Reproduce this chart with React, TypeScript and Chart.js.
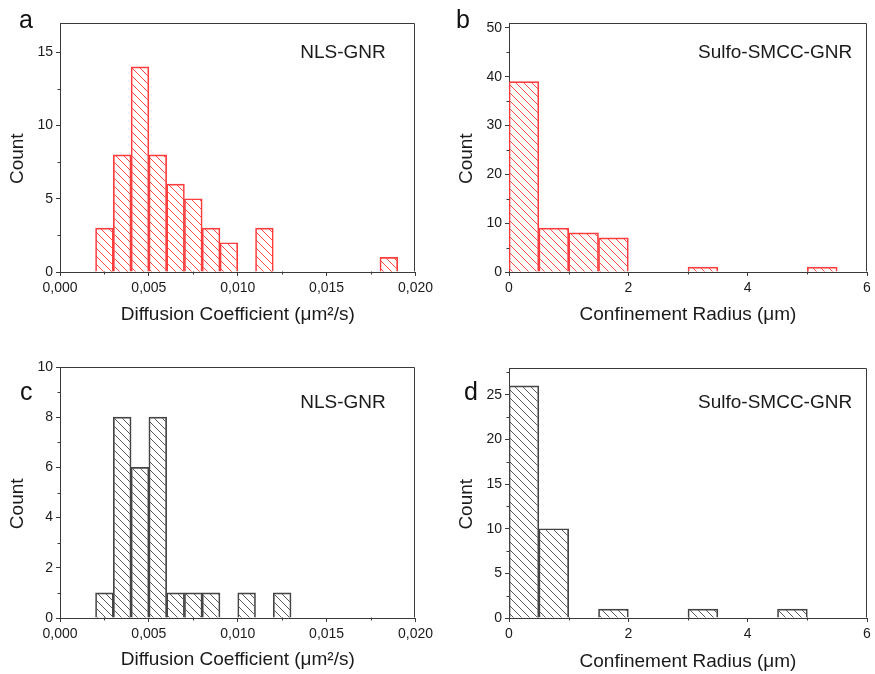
import React, { useEffect, useRef } from 'react';
import { Chart, registerables } from 'chart.js';

Chart.register(...registerables);

// ---------------- data ----------------
const diffusionBinWidth = 0.001;
const radiusBinWidth = 0.5;

const nlsRedBinStarts = [0.002, 0.003, 0.004, 0.005, 0.006, 0.007, 0.008, 0.009, 0.011, 0.018];
const nlsRedCounts = [3, 8, 14, 8, 6, 5, 3, 2, 3, 1];

const sulfoRedBinStarts = [0, 0.5, 1, 1.5, 3, 5];
const sulfoRedCounts = [39, 9, 8, 7, 1, 1];

const nlsGrayBinStarts = [0.002, 0.003, 0.004, 0.005, 0.006, 0.007, 0.008, 0.01, 0.012];
const nlsGrayCounts = [1, 8, 6, 8, 1, 1, 1, 1, 1];

const sulfoGrayBinStarts = [0, 0.5, 1.5, 3, 4.5];
const sulfoGrayCounts = [26, 10, 1, 1, 1];

const diffusionTicks = [0, 0.005, 0.01, 0.015, 0.02];
const diffusionTickLabels = ['0,000', '0,005', '0,010', '0,015', '0,020'];
const diffusionMinorTicks = [0.0025, 0.0075, 0.0125, 0.0175];

const radiusTicks = [0, 2, 4, 6];
const radiusTickLabels = ['0', '2', '4', '6'];
const radiusMinorTicks = [1, 3, 5];

const countTicksA = [0, 5, 10, 15];
const countMinorA = [2.5, 7.5, 12.5];
const countTicksB = [0, 10, 20, 30, 40, 50];
const countMinorB = [5, 15, 25, 35, 45];
const countTicksC = [0, 2, 4, 6, 8, 10];
const countMinorC = [1, 3, 5, 7, 9];
const countTicksD = [0, 5, 10, 15, 20, 25];
const countMinorD = [2.5, 7.5, 12.5, 17.5, 22.5, 27.5];

const diffusionTitle = 'Diffusion Coefficient (\u03bcm\u00b2/s)';
const radiusTitle = 'Confinement Radius (\u03bcm)';
const countTitle = 'Count';
const nlsLabel = 'NLS-GNR';
const sulfoLabel = 'Sulfo-SMCC-GNR';

// ---------------- styles ----------------
const AXIS_COLOR = '#3a3a3a';
const TEXT_COLOR = '#1a1a1a';
const RED_BORDER = '#ff3c3c';
const RED_HATCH = '#ff4a4a';
const GRAY_BORDER = '#444444';
const GRAY_HATCH = '#5a5a5a';
const ARIAL = '"Liberation Sans", Arial, Helvetica, sans-serif';
const TICK_FONT = { family: ARIAL, size: 14 };
const TITLE_FONT = { family: ARIAL, size: 19 };
const HATCH_STEP = 8;

type Panel = {
  key: string;
  letter: string;
  letterLeft: number;
  letterTop: number;
  left: number;
  top: number;
  width: number;
  height: number;
  padTop: number;
  padRight: number;
  xAxisHeight: number;
  titlePadBottom: number;
  starts: number[];
  counts: number[];
  binWidth: number;
  xMax: number;
  yMax: number;
  xTicks: number[];
  xLabels: string[];
  xMinor: number[];
  yTicks: number[];
  yMinor: number[];
  xTitle: string;
  note: string;
  noteFx: number;
  noteFy: number;
  border: string;
  hatch: string;
};

const panels: Panel[] = [
  {
    key: 'a', letter: 'a', letterLeft: 19, letterTop: 7,
    left: 0, top: 0, width: 437, height: 337, padTop: 23, padRight: 19, xAxisHeight: 65, titlePadBottom: 11,
    starts: nlsRedBinStarts, counts: nlsRedCounts, binWidth: diffusionBinWidth, xMax: 0.02, yMax: 17,
    xTicks: diffusionTicks, xLabels: diffusionTickLabels, xMinor: diffusionMinorTicks,
    yTicks: countTicksA, yMinor: countMinorA, xTitle: diffusionTitle,
    note: nlsLabel, noteFx: 0.676, noteFy: 0.12, border: RED_BORDER, hatch: RED_HATCH,
  },
  {
    key: 'b', letter: 'b', letterLeft: 456, letterTop: 7,
    left: 449, top: 0, width: 426, height: 337, padTop: 23, padRight: 8, xAxisHeight: 65, titlePadBottom: 11,
    starts: sulfoRedBinStarts, counts: sulfoRedCounts, binWidth: radiusBinWidth, xMax: 6, yMax: 51,
    xTicks: radiusTicks, xLabels: radiusTickLabels, xMinor: radiusMinorTicks,
    yTicks: countTicksB, yMinor: countMinorB, xTitle: radiusTitle,
    note: sulfoLabel, noteFx: 0.528, noteFy: 0.12, border: RED_BORDER, hatch: RED_HATCH,
  },
  {
    key: 'c', letter: 'c', letterLeft: 20, letterTop: 379,
    left: 0, top: 344, width: 437, height: 330, padTop: 23, padRight: 19, xAxisHeight: 56, titlePadBottom: 3,
    starts: nlsGrayBinStarts, counts: nlsGrayCounts, binWidth: diffusionBinWidth, xMax: 0.02, yMax: 10,
    xTicks: diffusionTicks, xLabels: diffusionTickLabels, xMinor: diffusionMinorTicks,
    yTicks: countTicksC, yMinor: countMinorC, xTitle: diffusionTitle,
    note: nlsLabel, noteFx: 0.676, noteFy: 0.143, border: GRAY_BORDER, hatch: GRAY_HATCH,
  },
  {
    key: 'd', letter: 'd', letterLeft: 464, letterTop: 379,
    left: 449, top: 345, width: 426, height: 329, padTop: 23, padRight: 8, xAxisHeight: 56, titlePadBottom: 1,
    starts: sulfoGrayBinStarts, counts: sulfoGrayCounts, binWidth: radiusBinWidth, xMax: 6, yMax: 28,
    xTicks: radiusTicks, xLabels: radiusTickLabels, xMinor: radiusMinorTicks,
    yTicks: countTicksD, yMinor: countMinorD, xTitle: radiusTitle,
    note: sulfoLabel, noteFx: 0.528, noteFy: 0.14, border: GRAY_BORDER, hatch: GRAY_HATCH,
  },
];

function makeDecorPlugin(p: Panel) {
  return {
    id: 'panelDecor' + p.key,
    afterDatasetsDraw(chart: any) {
      const { ctx } = chart;
      const meta = chart.getDatasetMeta(0);
      const s = HATCH_STEP;
      for (const el of meta.data) {
        const { x, y, base, width } = el.getProps(['x', 'y', 'base', 'width'], true);
        const l = x - width / 2 + 1;
        const r = x + width / 2 - 1;
        const t = Math.min(y, base) + 1;
        const b = Math.max(y, base);
        if (r <= l || b <= t) continue;
        ctx.save();
        ctx.beginPath();
        ctx.rect(l, t, r - l, b - t);
        ctx.clip();
        ctx.strokeStyle = p.hatch;
        ctx.lineWidth = 1;
        ctx.beginPath();
        const x0 = Math.floor(l) - 3 + 0.5;
        const x1 = Math.ceil(r) + 3 + 0.5;
        const c0 = Math.floor((t - x1) / s) - 1;
        const c1 = Math.ceil((b - x0) / s) + 1;
        for (let k = c0; k <= c1; k++) {
          const c = k * s;
          ctx.moveTo(x0, x0 + c);
          ctx.lineTo(x1, x1 + c);
        }
        ctx.stroke();
        ctx.restore();
      }
    },
    afterDraw(chart: any) {
      const { ctx, chartArea: ca, scales } = chart;
      ctx.save();
      ctx.strokeStyle = AXIS_COLOR;
      ctx.lineWidth = 1;
      const top = Math.round(ca.top) + 0.5;
      const right = Math.round(ca.right) - 0.5;
      const bottom = Math.round(ca.bottom) - 0.5;
      const left = Math.round(ca.left) + 0.5;
      ctx.beginPath();
      ctx.moveTo(left, top);
      ctx.lineTo(right, top);
      ctx.lineTo(right, bottom);
      for (const v of p.xMinor) {
        const x = Math.round(scales.x.getPixelForValue(v)) + 0.5;
        ctx.moveTo(x, bottom);
        ctx.lineTo(x, bottom + 3);
      }
      for (const v of p.yMinor) {
        const y = Math.round(scales.y.getPixelForValue(v)) + 0.5;
        ctx.moveTo(left, y);
        ctx.lineTo(left - 3, y);
      }
      ctx.stroke();
      ctx.fillStyle = TEXT_COLOR;
      ctx.font = '19px ' + ARIAL;
      ctx.textAlign = 'left';
      ctx.textBaseline = 'middle';
      ctx.fillText(p.note, ca.left + p.noteFx * (ca.right - ca.left), ca.top + p.noteFy * (ca.bottom - ca.top));
      ctx.save();
      ctx.translate(18, ca.top + 0.545 * (ca.bottom - ca.top));
      ctx.rotate(-Math.PI / 2);
      ctx.textAlign = 'center';
      ctx.textBaseline = 'middle';
      ctx.fillText(countTitle, 0, 0);
      ctx.restore();
      ctx.restore();
    },
  };
}

function HistPanel({ p }: { p: Panel }) {
  const ref = useRef<HTMLCanvasElement | null>(null);
  useEffect(() => {
    const canvas = ref.current!;
    const data = p.starts.map((st, i) => ({ x: st + p.binWidth / 2, y: p.counts[i] }));

    const chart = new Chart(canvas, {
      type: 'bar',
      data: {
        datasets: [
          {
            data: data as any,
            backgroundColor: 'rgba(255,255,255,0)',
            borderColor: p.border,
            borderWidth: 1,
            borderSkipped: 'start',
            barPercentage: 1,
            categoryPercentage: 1,
          },
        ],
      },
      plugins: [makeDecorPlugin(p) as any],
      options: {
        animation: false,
        responsive: false,
        devicePixelRatio: 1,
        layout: { padding: { top: p.padTop, right: p.padRight, left: 0, bottom: 0 } },
        plugins: {
          legend: { display: false },
          tooltip: { enabled: false },
        },
        scales: {
          x: {
            type: 'linear',
            min: 0,
            max: p.xMax,
            offset: false,
            afterBuildTicks: (scale: any) => {
              scale.ticks = p.xTicks.map((v) => ({ value: v }));
            },
            afterFit: (scale: any) => {
              scale.height = p.xAxisHeight;
            },
            grid: { display: true, offset: false, drawOnChartArea: false, drawTicks: true, tickLength: 4, color: AXIS_COLOR },
            border: { display: true, color: AXIS_COLOR, width: 1 },
            ticks: {
              autoSkip: false,
              maxRotation: 0,
              padding: 4,
              color: TEXT_COLOR,
              font: TICK_FONT,
              callback: (_v: any, i: number) => p.xLabels[i],
            },
            title: {
              display: true,
              text: p.xTitle,
              color: TEXT_COLOR,
              font: TITLE_FONT,
              padding: { top: 0, bottom: p.titlePadBottom },
            },
          },
          y: {
            type: 'linear',
            min: 0,
            max: p.yMax,
            afterBuildTicks: (scale: any) => {
              scale.ticks = p.yTicks.map((v) => ({ value: v }));
            },
            afterFit: (scale: any) => {
              scale.width = 60;
            },
            grid: { display: true, drawOnChartArea: false, drawTicks: true, tickLength: 4, color: AXIS_COLOR },
            border: { display: true, color: AXIS_COLOR, width: 1 },
            ticks: {
              autoSkip: false,
              padding: 3,
              color: TEXT_COLOR,
              font: TICK_FONT,
              callback: (v: any) => String(v),
            },
            title: { display: false },
          },
        },
      } as any,
    });
    return () => chart.destroy();
  }, [p]);

  return (
    <canvas
      ref={ref}
      width={p.width}
      height={p.height}
      style={{ position: 'absolute', left: p.left, top: p.top, width: p.width, height: p.height }}
    />
  );
}

export default function App() {
  return (
    <div style={{ position: 'fixed', left: 0, top: 0, width: 875, height: 674, background: '#ffffff', overflow: 'hidden' }}>
      {panels.map((p) => (
        <HistPanel key={p.key} p={p} />
      ))}
      {panels.map((p) => (
        <div
          key={'l' + p.key}
          style={{
            position: 'absolute',
            left: p.letterLeft,
            top: p.letterTop,
            fontFamily: ARIAL,
            fontSize: 25,
            lineHeight: '25px',
            color: '#111',
          }}
        >
          {p.letter}
        </div>
      ))}
    </div>
  );
}
